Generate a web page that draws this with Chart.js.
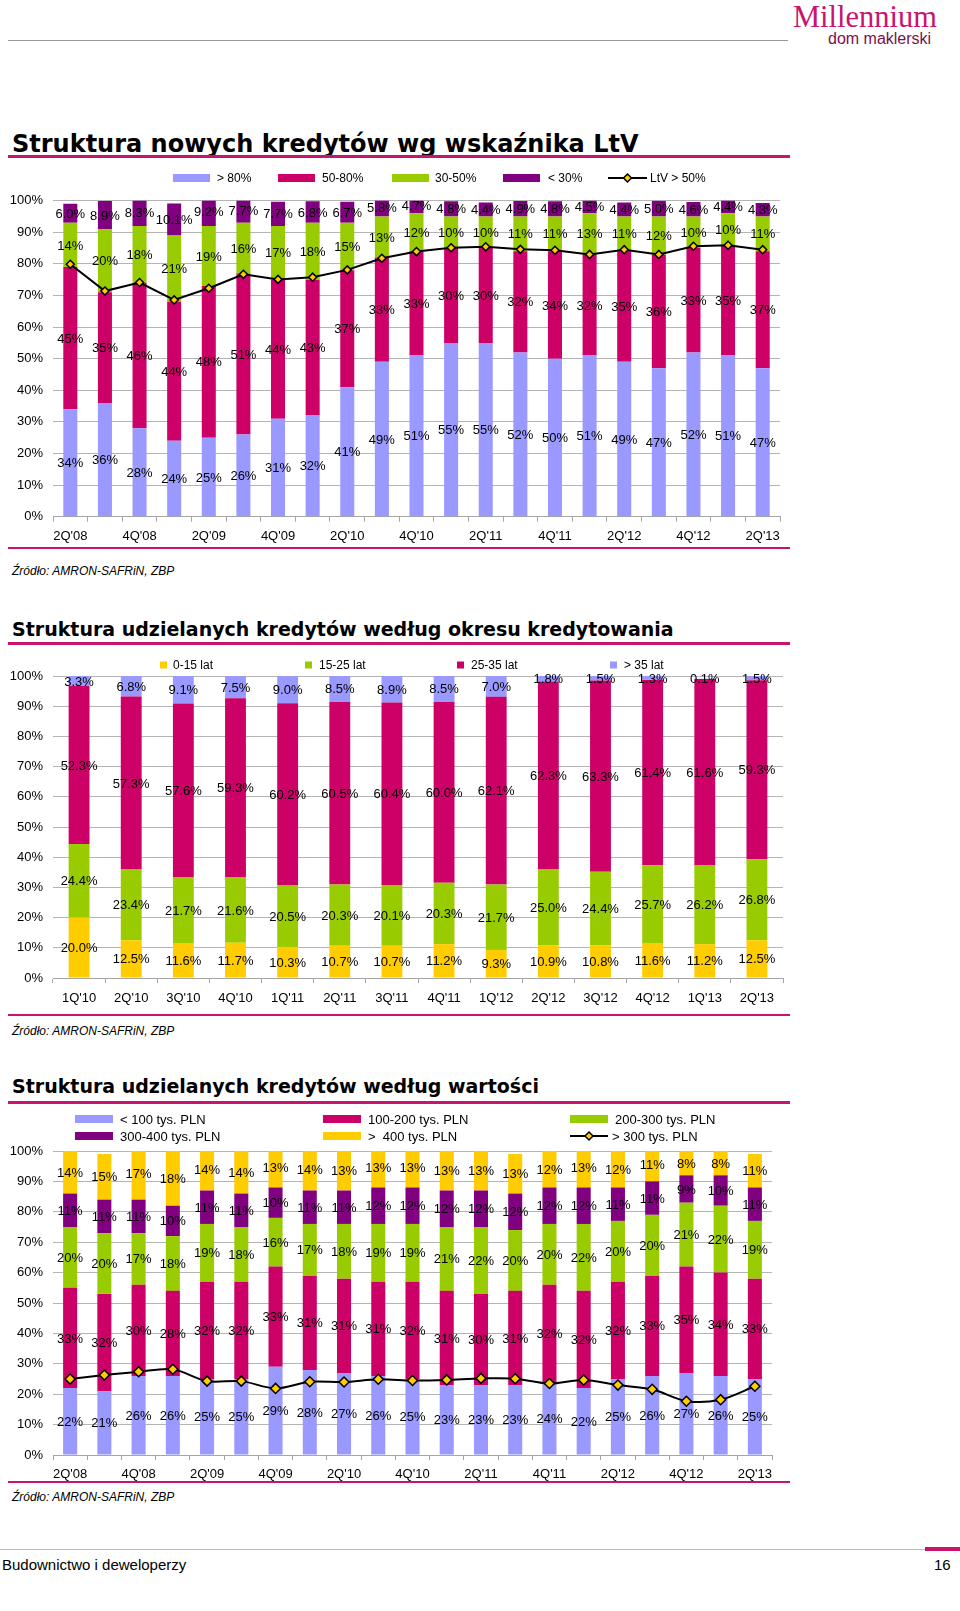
<!DOCTYPE html>
<html><head><meta charset="utf-8">
<script src="https://cdn.jsdelivr.net/npm/chart.js@4.4.0/dist/chart.umd.min.js"></script>
<style>
body{margin:0;width:960px;height:1611px;position:relative;background:#fff;font-family:"Liberation Sans",Arial,sans-serif;overflow:hidden}
.title{position:absolute;left:12px;font-family:"DejaVu Sans",Verdana,sans-serif;font-weight:bold;font-size:19px;line-height:24px;color:#000;white-space:nowrap}
.rule{position:absolute;left:8px;width:782px;height:3px;background:#C8146E}
.rule2{position:absolute;left:8px;width:782px;height:2px;background:#C8146E}
.src{position:absolute;left:12px;font-style:italic;font-size:12px;line-height:14px;white-space:nowrap;color:#000}
canvas{position:absolute;left:0}
.logo{position:absolute;left:793px;top:1px;font-family:"Liberation Serif","DejaVu Serif",serif;font-size:30.5px;color:#C8146E;line-height:32px;white-space:nowrap}
.logo2{position:absolute;left:828px;top:31px;font-family:"Liberation Sans",Arial,sans-serif;font-size:16px;color:#7a1050;line-height:16px;white-space:nowrap}
.hline{position:absolute;left:8px;top:40px;width:780px;height:1px;background:#999}
.foot{position:absolute;left:2px;top:1556px;font-size:15px;line-height:18px}
.pg{position:absolute;left:934px;top:1556px;font-size:15px;line-height:18px}
.fline{position:absolute;left:0;top:1549px;width:960px;height:1px;background:#bbb}
.pgbar{position:absolute;left:925px;top:1547px;width:35px;height:4px;background:#C8146E}
</style></head>
<body>
<div class="logo">Millennium</div>
<div class="logo2">dom maklerski</div>
<div class="hline"></div>

<div class="title" style="top:130px;font-size:24px;line-height:28px">Struktura nowych kredytów wg wskaźnika LtV</div>
<div class="rule" style="top:155px"></div>
<canvas id="c1" width="800" height="392" style="top:160px"></canvas>
<div class="rule2" style="top:547px"></div>
<div class="src" style="top:564px">Źródło: AMRON-SAFRiN, ZBP</div>

<div class="title" style="top:617px">Struktura udzielanych kredytów według okresu kredytowania</div>
<div class="rule" style="top:642px"></div>
<canvas id="c2" width="800" height="365" style="top:650px"></canvas>
<div class="rule2" style="top:1014px"></div>
<div class="src" style="top:1024px">Źródło: AMRON-SAFRiN, ZBP</div>

<div class="title" style="top:1074px">Struktura udzielanych kredytów według wartości</div>
<div class="rule" style="top:1101px"></div>
<canvas id="c3" width="800" height="380" style="top:1108px"></canvas>
<div class="rule2" style="top:1481px"></div>
<div class="src" style="top:1490px">Źródło: AMRON-SAFRiN, ZBP</div>

<div class="fline"></div>
<div class="pgbar"></div>
<div class="foot">Budownictwo i deweloperzy</div>
<div class="pg">16</div>

<script>
// ---------- DATA ----------
const quarters = ["2Q'08","3Q'08","4Q'08","1Q'09","2Q'09","3Q'09","4Q'09","1Q'10","2Q'10","3Q'10","4Q'10","1Q'11","2Q'11","3Q'11","4Q'11","1Q'12","2Q'12","3Q'12","4Q'12","1Q'13","2Q'13"];
const percentTicks = [0,10,20,30,40,50,60,70,80,90,100];

// Chart 1: LtV
const ltvOver80 = [34,36,28,24,25,26,31,32,41,49,51,55,55,52,50,51,49,47,52,51,47];
const ltv50to80 = [45,35,46,44,48,51,44,43,37,33,33,30,30,32,34,32,35,36,33,35,37];
const ltv30to50 = [14,20,18,21,19,16,17,18,15,13,12,10,10,11,11,13,11,12,10,10,11];
const ltvUnder30 = [6.0,8.9,8.3,10.1,9.2,7.7,7.7,6.8,6.7,5.8,4.7,4.8,4.4,4.9,4.8,4.5,4.4,5.0,4.6,4.4,4.3];
const ltvAbove50Line = [79.9,71.4,74.1,68.6,72.3,76.7,75.1,75.8,78.1,81.8,83.9,85.1,85.4,84.6,84.3,83.0,84.5,83.0,85.6,85.9,84.5];

// Chart 2: loan period
const periodQuarters = ["1Q'10","2Q'10","3Q'10","4Q'10","1Q'11","2Q'11","3Q'11","4Q'11","1Q'12","2Q'12","3Q'12","4Q'12","1Q'13","2Q'13"];
const period0to15 = [20.0,12.5,11.6,11.7,10.3,10.7,10.7,11.2,9.3,10.9,10.8,11.6,11.2,12.5];
const period15to25 = [24.4,23.4,21.7,21.6,20.5,20.3,20.1,20.3,21.7,25.0,24.4,25.7,26.2,26.8];
const period25to35 = [52.3,57.3,57.6,59.3,60.2,60.5,60.4,60.0,62.1,62.3,63.3,61.4,61.6,59.3];
const periodOver35 = [3.3,6.8,9.1,7.5,9.0,8.5,8.9,8.5,7.0,1.8,1.5,1.3,0.1,1.5];

// Chart 3: loan value
const valUnder100 = [22,21,26,26,25,25,29,28,27,26,25,23,23,23,24,22,25,26,27,26,25];
const val100to200 = [33,32,30,28,32,32,33,31,31,31,32,31,30,31,32,32,32,33,35,34,33];
const val200to300 = [20,20,17,18,19,18,16,17,18,19,19,21,22,20,20,22,20,20,21,22,19];
const val300to400 = [11,11,11,10,11,11,10,11,11,12,12,12,12,12,12,12,11,11,9,10,11];
const valOver400 = [14,15,17,18,14,14,13,14,13,13,13,13,13,13,12,13,12,11,8,8,11];
const valAbove300Line = [25.0,26.3,27.4,28.2,24.3,24.3,21.9,24.1,24.0,24.9,24.5,24.7,25.2,25.1,23.5,24.7,23.0,21.6,17.7,18.2,22.6];

// ---------- STYLE ----------
const FAM = "'Liberation Sans', Arial, sans-serif";
Chart.defaults.font.family = FAM;
Chart.defaults.color = '#000';
const C = {lav:'#9999FF', mag:'#CC0066', grn:'#99CC00', pur:'#800080', yel:'#FFCC00'};

const barLabels = {
  id:'barLabels',
  afterDatasetsDraw(chart, args, opts){
    const ctx = chart.ctx;
    ctx.save();
    ctx.font = opts.size + 'px ' + FAM;
    ctx.fillStyle = '#000'; ctx.textAlign = 'center'; ctx.textBaseline = 'middle';
    chart.data.datasets.forEach((ds,i)=>{
      if(ds.type === 'line') return;
      const dec = opts.decimals[i];
      const meta = chart.getDatasetMeta(i);
      meta.data.forEach((el,j)=>{
        ctx.fillText(ds.data[j].toFixed(dec) + '%', el.x, (el.y + el.base)/2 + 1);
      });
    });
    ctx.restore();
  }
};

function diamond(ctx, x, y, r){
  ctx.beginPath();
  ctx.moveTo(x, y-r); ctx.lineTo(x+r, y); ctx.lineTo(x, y+r); ctx.lineTo(x-r, y); ctx.closePath();
  ctx.fillStyle = C.yel; ctx.fill();
  ctx.strokeStyle = '#000'; ctx.lineWidth = 1.5; ctx.stroke();
}

const manualLegend = {
  id:'manualLegend',
  afterDraw(chart, args, opts){
    const ctx = chart.ctx;
    ctx.save();
    ctx.font = opts.size + 'px ' + FAM;
    ctx.textBaseline = 'middle'; ctx.textAlign = 'left';
    opts.items.forEach(it=>{
      const ds = chart.data.datasets[it.ds];
      if(it.kind === 'line'){
        ctx.strokeStyle = '#000'; ctx.lineWidth = 2;
        ctx.beginPath(); ctx.moveTo(it.x, it.y); ctx.lineTo(it.x + it.w, it.y); ctx.stroke();
        diamond(ctx, it.x + it.w/2, it.y, it.r);
      } else {
        ctx.fillStyle = ds.backgroundColor;
        ctx.fillRect(it.x, it.y - it.h/2, it.w, it.h);
      }
      ctx.fillStyle = '#000';
      ctx.fillText(ds.label, it.tx, it.y + 1);
    });
    ctx.restore();
  }
};

function makeChart(id, labels, datasets, cfg){
  return new Chart(document.getElementById(id), {
    type:'bar',
    data:{labels, datasets},
    options:{
      responsive:false, animation:false,
      layout:{padding:{top:cfg.top, right:cfg.right, left:0, bottom:0}},
      plugins:{
        legend:{display:false}, tooltip:{enabled:false},
        barLabels:{size:13, decimals:cfg.decimals},
        manualLegend:{size:cfg.legendSize, items:cfg.legend}
      },
      datasets:{bar:{barPercentage:cfg.barPct, categoryPercentage:1}},
      scales:{
        x:{stacked:true, afterFit(s){ s.height = cfg.xh; },
           grid:{drawOnChartArea:false, drawTicks:true, tickLength:5, color:'#A6A6A6', offset:true},
           border:{display:true, color:'#A6A6A6'},
           ticks:{autoSkip:false, maxRotation:0, minRotation:0, padding:cfg.xpad, font:{size:13},
                  callback:(v,i)=> (i % cfg.every === 0) ? labels[i] : ''}},
        y:{stacked:true, min:0, max:100, afterFit(s){ s.width = 53; },
           afterBuildTicks(s){ s.ticks = percentTicks.map(v=>({value:v})); },
           grid:{color:'#B4B4B4', drawTicks:false}, border:{display:false},
           ticks:{padding:10, font:{size:13}, callback:v=> v + '%'}}
      }
    },
    plugins:[barLabels, manualLegend]
  });
}

function lineDs(label, data, r, tension, lw){
  return {type:'line', label, data, stack:'line', order:-1, borderColor:'#000', borderWidth:lw,
          pointStyle:'rectRot', pointRadius:r, pointBackgroundColor:C.yel, pointBorderColor:'#000',
          pointBorderWidth:1.5, tension, fill:false};
}

// Chart 1
makeChart('c1', quarters, [
  {label:'> 80%', data:ltvOver80, backgroundColor:C.lav},
  {label:'50-80%', data:ltv50to80, backgroundColor:C.mag},
  {label:'30-50%', data:ltv30to50, backgroundColor:C.grn},
  {label:'< 30%', data:ltvUnder30, backgroundColor:C.pur},
  lineDs('LtV > 50%', ltvAbove50Line, 4, 0, 2)
], {top:40.7, right:20, xh:35.3, xpad:7, barPct:0.405, every:2, decimals:[0,0,0,1],
    legendSize:12,
    legend:[
      {ds:0, x:173, y:18, w:37, h:8, tx:217},
      {ds:1, x:278, y:18, w:37, h:8, tx:322},
      {ds:2, x:392, y:18, w:37, h:8, tx:435},
      {ds:3, x:503, y:18, w:37, h:8, tx:548},
      {ds:4, kind:'line', x:608, y:18, w:39, r:4, tx:650}
    ]});

// Chart 2
makeChart('c2', periodQuarters, [
  {label:'0-15 lat', data:period0to15, backgroundColor:C.yel},
  {label:'15-25 lat', data:period15to25, backgroundColor:C.grn},
  {label:'25-35 lat', data:period25to35, backgroundColor:C.mag},
  {label:'> 35 lat', data:periodOver35, backgroundColor:C.lav}
], {top:26, right:17, xh:37, xpad:8, barPct:0.4, every:1, decimals:[1,1,1,1],
    legendSize:12,
    legend:[
      {ds:0, x:160, y:15, w:7, h:7, tx:173},
      {ds:1, x:305, y:15, w:7, h:7, tx:319},
      {ds:2, x:457, y:15, w:7, h:7, tx:471},
      {ds:3, x:610, y:15, w:7, h:7, tx:624}
    ]});

// Chart 3
makeChart('c3', quarters, [
  {label:'< 100 tys. PLN', data:valUnder100, backgroundColor:C.lav},
  {label:'100-200 tys. PLN', data:val100to200, backgroundColor:C.mag},
  {label:'200-300 tys. PLN', data:val200to300, backgroundColor:C.grn},
  {label:'300-400 tys. PLN', data:val300to400, backgroundColor:C.pur},
  {label:'>  400 tys. PLN', data:valOver400, backgroundColor:C.yel},
  lineDs('> 300 tys. PLN', valAbove300Line, 5, 0.3, 2)
], {top:43, right:28, xh:33, xpad:7, barPct:0.41, every:2, decimals:[0,0,0,0,0],
    legendSize:13,
    legend:[
      {ds:0, x:75, y:11, w:38, h:8, tx:120},
      {ds:1, x:323, y:11, w:38, h:8, tx:368},
      {ds:2, x:570, y:11, w:38, h:8, tx:615},
      {ds:3, x:75, y:28, w:38, h:8, tx:120},
      {ds:4, x:323, y:28, w:38, h:8, tx:368},
      {ds:5, kind:'line', x:570, y:28, w:38, r:4, tx:612}
    ]});
</script>
</body></html>
